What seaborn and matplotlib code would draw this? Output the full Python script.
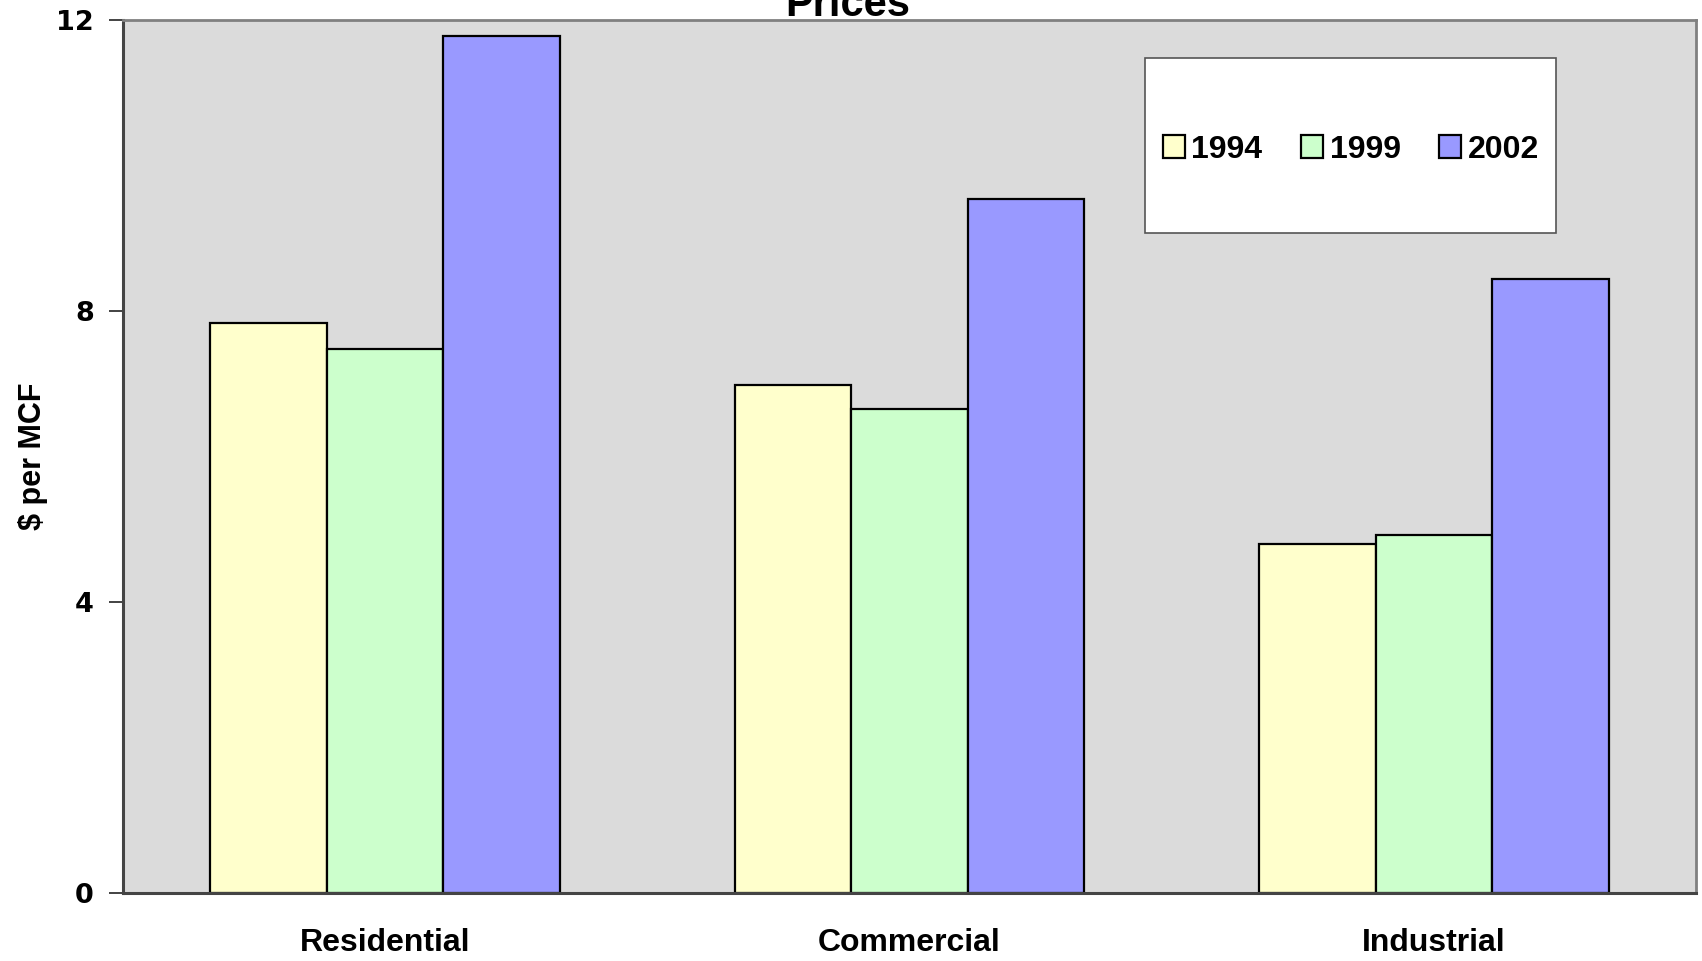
import matplotlib
matplotlib.use("Agg")
import matplotlib.pyplot as plt
import matplotlib.patches as mpatches
import seaborn as sns
import pandas as pd

# Natural gas prices by sector ($ per MCF)
sectors = ["Residential", "Commercial", "Industrial"]
years = ["1994", "1999", "2002"]
prices_1994 = [7.83, 6.98, 4.79]
prices_1999 = [7.47, 6.65, 4.92]
prices_2002 = [11.78, 9.54, 8.44]
year_colors = ["#FFFFCC", "#CCFFCC", "#9999FF"]
y_ticks = [0, 4, 8, 12]

rows = []
for year, vals in zip(years, [prices_1994, prices_1999, prices_2002]):
    for sector, v in zip(sectors, vals):
        rows.append({"Sector": sector, "Year": year, "Price": v})
df = pd.DataFrame(rows)

sns.set_theme(style="white")
plt.rcParams["font.family"] = ["Liberation Sans", "DejaVu Sans"]
plt.rcParams["font.weight"] = "bold"
plt.rcParams["text.color"] = "black"
plt.rcParams["axes.labelcolor"] = "black"
plt.rcParams["xtick.color"] = "black"
plt.rcParams["ytick.color"] = "black"

fig = plt.figure(figsize=(17.02, 9.61), dpi=100)
ax = fig.add_axes([0.0723, 0.0708, 0.9242, 0.9089])
ax.set_facecolor("#DBDBDB")

sns.barplot(data=df, x="Sector", y="Price", hue="Year", order=sectors,
            hue_order=years, palette=year_colors, width=2 / 3, gap=0,
            edgecolor="black", linewidth=1.6, saturation=1, ax=ax,
            legend=True, errorbar=None)

ax.set_xlim(-0.5, 2.5)
ax.set_ylim(0, 12)
ax.set_yticks(y_ticks)
ax.set_yticklabels([str(t) for t in y_ticks])
for lab in ax.get_yticklabels():
    lab.set_fontfamily("DejaVu Sans")
    lab.set_fontweight("bold")
    lab.set_fontsize(19.5)
    lab.set_color("black")
ax.tick_params(axis="y", direction="out", length=10, width=1.2, color="#222222",
               pad=11, left=True)
ax.tick_params(axis="x", length=0, pad=25, labelsize=23, labelcolor="black")
for lab in ax.get_xticklabels():
    lab.set_fontweight("bold")

ax.set_xlabel("")
ax.set_ylabel("$ per MCF", fontsize=22, fontweight="bold", color="black")
ax.yaxis.set_label_coords(-0.048, 0.50)

for side in ["top", "right"]:
    ax.spines[side].set_color("#808080")
    ax.spines[side].set_linewidth(2.0)
for side in ["left", "bottom"]:
    ax.spines[side].set_color("#444444")
    ax.spines[side].set_linewidth(2.2)

# Legend box with white background
frame = mpatches.Rectangle((0.650, 0.7556), 0.261, 0.2009, transform=ax.transAxes,
                           facecolor="white", edgecolor="#555555", linewidth=1.2,
                           zorder=5)
ax.add_patch(frame)
handles, labels = ax.get_legend_handles_labels()
ax.get_legend().remove()
leg = ax.legend(handles, labels, loc="center", bbox_to_anchor=(0.7805, 0.851),
                ncol=3, frameon=False, handlelength=0.7,
                handleheight=0.7, handletextpad=0.2, columnspacing=1.2,
                prop={"weight": "bold", "size": 23})
leg.set_zorder(6)
for h in leg.legend_handles:
    h.set_edgecolor("black")
    h.set_linewidth(1.6)
for t in leg.get_texts():
    t.set_color("black")

fig.text(0.498, 1 - 16 / 961, "Prices", ha="center", va="baseline",
         fontsize=30, fontweight="bold", color="black")

fig.savefig("out.png", dpi=100)
